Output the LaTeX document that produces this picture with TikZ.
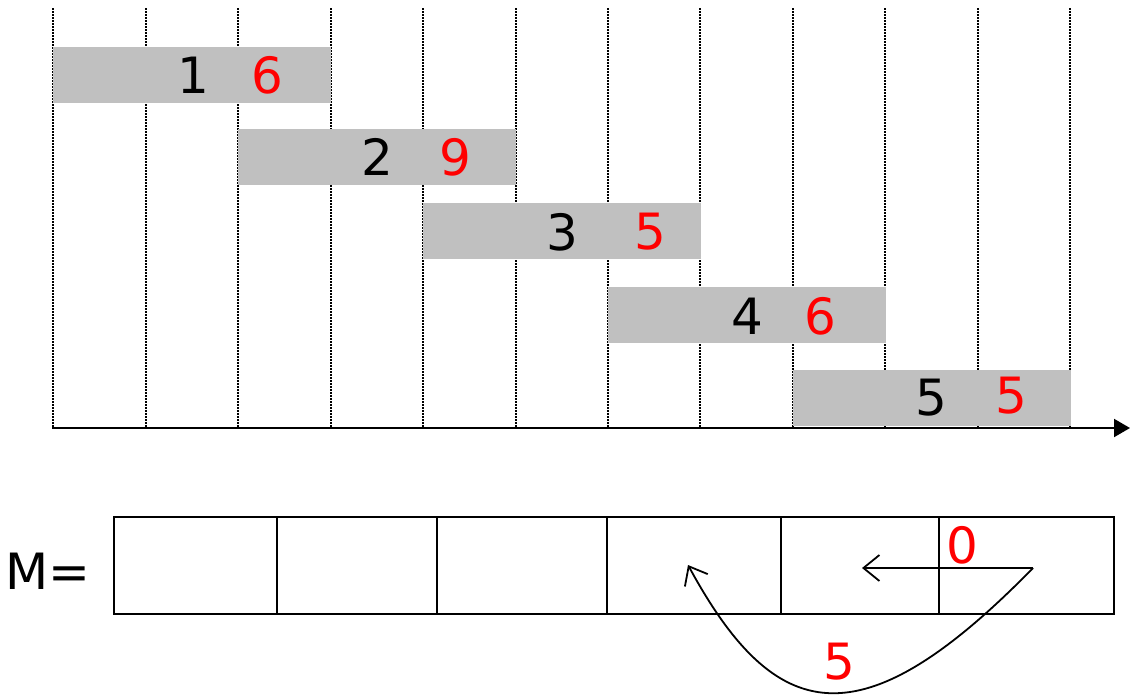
\documentclass[tikz,border=0pt]{standalone}
\usepackage{fontspec}
\setmainfont{DejaVu Sans}
\usetikzlibrary{arrows.meta}
\definecolor{bargray}{HTML}{C0C0C0}
\definecolor{numred}{HTML}{FF0000}
\begin{document}
\begin{tikzpicture}[x=0.5pt,y=-0.5pt,
  grid/.style={line width=1pt,dash pattern=on 0.8pt off 0.7pt},
  bar/.style={fill=bargray,draw=none,minimum width=139pt,minimum height=28pt,inner sep=0pt},
  lab/.style={font=\fontsize{25}{27}\selectfont,inner sep=0pt},
  red/.style={lab,text=numred},
  cellline/.style={line width=1pt},
  barb/.style={-{Straight Barb[length=8pt,width=13pt,line width=0.9pt]},line width=0.9pt}]
\useasboundingbox (0,0) rectangle (1130,697);
% grid lines
\foreach \x in {53,146,238,331,423,516,608,700,793,885,978,1070}
  \draw[grid] (\x,8) -- (\x,428);
% bars
\node[bar,anchor=north west] (b1) at (53,47) {};
\node[bar,anchor=north west] (b2) at (238,129) {};
\node[bar,anchor=north west] (b3) at (423,203) {};
\node[bar,anchor=north west] (b4) at (608,287) {};
\node[bar,anchor=north west] (b5) at (793,370) {};
\node[lab] (n1) at (193,75) {1};   \node[red] (v1) at (267,75) {6};
\node[lab] (n2) at (377,157) {2};  \node[red] (v2) at (455,157) {9};
\node[lab] (n3) at (562,232) {3};  \node[red] (v3) at (650,232) {5};
\node[lab] (n4) at (747,316) {4};  \node[red] (v4) at (820,316) {6};
\node[lab] (n5) at (931,398) {5};  \node[red] (v5) at (1011,396) {5};
% axis
\coordinate (a0) at (52,428);
\coordinate (a1) at (1130,428);
\draw[line width=1pt,-{Triangle[length=8pt,width=9pt]}] (a0) -- (a1);
% array
\node[lab] (M) at (48,571) {M=};
\draw[cellline] (114,517) rectangle (1114,614);
\foreach \x in {277,437,607,781,939}
  \draw[cellline] (\x,517) -- (\x,614);
\node[red] (zero) at (962,545) {0};
\node[red] (five) at (839,662) {5};
\coordinate (s) at (1033,568);
\coordinate (t1) at (862,568);
\coordinate (t2) at (688,565);
\draw[barb] (s) -- (t1);
\draw[barb] (s) .. controls (860,745) and (775,725) .. (t2);
\end{tikzpicture}
\end{document}
